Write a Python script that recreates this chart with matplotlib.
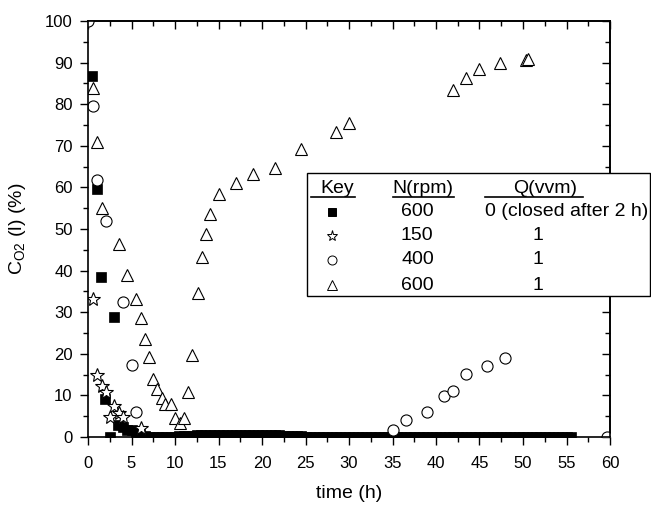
import matplotlib.pyplot as plt
from matplotlib.patches import Rectangle
from matplotlib.lines import Line2D

plt.rcParams['font.family'] = ['Liberation Sans', 'DejaVu Sans']

# N=600 rpm, Q=0 (closed after 2 h) - filled squares
t_sq = [0.5, 1.0, 1.5, 2.0, 2.5, 3.0, 3.5, 4.0, 4.5, 5.0, 5.5, 6.0,
        6.5, 7.0, 7.5, 8.0, 8.5, 9.0, 9.5, 10.0, 10.5, 11.0, 11.5, 12.0,
        12.5, 13.0, 13.5, 14.0, 14.5, 15.0, 15.5, 16.0, 16.5, 17.0, 17.5,
        18.0, 18.5, 19.0, 19.5, 20.0, 20.5, 21.0, 21.5, 22.0, 22.5, 23.0,
        23.5, 24.0, 24.5, 25.0, 25.5, 26.0, 26.5, 27.0, 27.5, 28.0, 28.5,
        29.0, 29.5, 30.0, 30.5, 31.0, 31.5, 32.0, 32.5, 33.0, 33.5, 34.0,
        34.5, 35.0, 35.5, 36.0, 36.5, 37.0, 37.5, 38.0, 38.5, 39.0, 39.5,
        40.0, 40.5, 41.0, 41.5, 42.0, 42.5, 43.0, 43.5, 44.0, 44.5, 45.0,
        45.5, 46.0, 46.5, 47.0, 47.5, 48.0, 48.5, 49.0, 49.5, 50.0, 50.5,
        51.0, 51.5, 52.0, 52.5, 53.0, 53.5, 54.0, 54.5, 55.0, 55.5]
c_sq = [86.8, 59.5, 38.5, 9.2, 0.0, 28.8, 2.8, 2.3, 1.8, 1.6, 1.2, 0.8,
        0.2, 0.1, 0.1, 0.1, 0.1, 0.1, 0.1, 0.1, 0.2, 0.2, 0.3, 0.3,
        0.4, 0.5, 0.6, 0.6, 0.6, 0.6, 0.6, 0.6, 0.6, 0.6, 0.6,
        0.6, 0.5, 0.5, 0.5, 0.5, 0.4, 0.4, 0.4, 0.4, 0.3, 0.3,
        0.3, 0.2, 0.2, 0.1, 0.1, 0.1, 0.1, 0.1, 0.1, 0.1, 0.1,
        0.1, 0.1, 0.1, 0.1, 0.1, 0.1, 0.1, 0.1, 0.1, 0.1, 0.1,
        0.1, 0.1, 0.1, 0.1, 0.1, 0.1, 0.1, 0.1, 0.1, 0.1, 0.1,
        0.1, 0.1, 0.1, 0.1, 0.1, 0.1, 0.1, 0.1, 0.1, 0.1, 0.1,
        0.1, 0.1, 0.1, 0.1, 0.1, 0.1, 0.1, 0.1, 0.1, 0.1, 0.1,
        0.1, 0.1, 0.1, 0.1, 0.1, 0.1, 0.1, 0.1, 0.1, 0.1]

# N=150 rpm, Q=1 - open stars
t_st = [0.54, 1.07, 1.57, 2.07, 2.53, 3.0, 3.6, 4.06, 6.05]
c_st = [33.2, 14.8, 12.2, 10.8, 4.8, 7.4, 5.8, 4.8, 2.2]

# N=400 rpm, Q=1 - open circles
t_ci = [0.0, 0.54, 1.07, 2.07, 4.06, 5.0, 5.5, 35.0, 36.5, 39.0, 40.9, 41.9,
        43.4, 45.9, 47.9, 59.6]
c_ci = [100.0, 79.6, 61.8, 52.0, 32.4, 17.3, 6.0, 1.8, 4.2, 5.9, 9.9, 11.1,
        15.1, 17.1, 19.0, 0.0]

# N=600 rpm, Q=1 - open triangles
t_tr = [0.54, 1.07, 1.57, 3.6, 4.5, 5.5, 6.05, 6.55, 7.05, 7.5, 7.97, 8.47,
        8.9, 9.5, 10.0, 10.6, 11.0, 11.5, 12.0, 12.6, 13.1, 13.6, 14.0, 15.0,
        17.0, 19.0, 21.5, 24.5, 28.5, 30.0, 42.0, 43.5, 45.0, 47.4, 50.4, 50.6]
c_tr = [83.8, 71.0, 55.0, 46.5, 39.0, 33.2, 28.7, 23.5, 19.2, 13.9, 11.5, 9.3,
        7.9, 7.9, 4.6, 3.3, 4.6, 10.7, 19.7, 34.7, 43.3, 48.9, 53.6, 58.3,
        61.1, 63.2, 64.7, 69.2, 73.4, 75.4, 83.4, 86.4, 88.4, 89.8, 90.6, 90.9]

key_rpm = ['600', '150', '400', '600']
key_q = ['0 (closed after 2 h)', '1', '1', '1']

fig = plt.figure(figsize=(6.51, 5.07), dpi=100)
ax = fig.add_axes([88 / 651, (507 - 437) / 507, 522 / 651, 416 / 507])

ax.plot(t_sq, c_sq, 's', ms=6.5, mfc='black', mec='black', mew=0.5)
ax.plot(t_st, c_st, '*', ms=10, mfc='white', mec='black', mew=0.8)
ax.plot(t_ci, c_ci, 'o', ms=8, mfc='white', mec='black', mew=0.8)
ax.plot(t_tr, c_tr, '^', ms=9, mfc='white', mec='black', mew=0.8)

ax.set_xlim(0, 60)
ax.set_ylim(0, 100)
ax.set_xticks(range(0, 61, 5))
ax.set_xticks([x + 2.5 for x in range(0, 60, 5)], minor=True)
ax.set_yticks(range(0, 101, 10))
ax.set_yticks([y + 5 for y in range(0, 100, 10)], minor=True)
ax.tick_params(which='both', labelsize=12, width=1, color='black')
ax.tick_params(which='major', length=6)
ax.tick_params(axis='x', which='major', pad=8)
ax.tick_params(axis='y', which='major', pad=5)
ax.tick_params(which='minor', length=3.5)
ax.tick_params(which='both', direction='out', top=False, right=False)
ax2 = ax.secondary_xaxis('top')
ax2.set_xticks(range(0, 61, 5))
ax2.set_xticks([x + 2.5 for x in range(0, 60, 5)], minor=True)
ax2.tick_params(which='both', direction='in', labeltop=False, width=1)
ax2.tick_params(which='major', length=6)
ax2.tick_params(which='minor', length=3.5)
ay2 = ax.secondary_yaxis('right')
ay2.set_yticks(range(0, 101, 10))
ay2.set_yticks([y + 5 for y in range(0, 100, 10)], minor=True)
ay2.tick_params(which='both', direction='in', labelright=False, width=1)
ay2.tick_params(which='major', length=6)
ay2.tick_params(which='minor', length=3.5)
for s in ax.spines.values():
    s.set_linewidth(1.2)
ax2.spines['top'].set_linewidth(1.2)
ay2.spines['right'].set_linewidth(1.2)

ax.set_xlabel('time (h)', fontsize=14, labelpad=10)
ax.set_ylabel(r'C$_{\mathregular{O2}}$ (l) (%)', fontsize=14, labelpad=12)

# key box drawn in figure pixels
W, H = 651, 507
def fx(px):
    return px / W
def fy(py):
    return 1 - py / H

fig.patches.append(Rectangle((fx(307), fy(296)), fx(650) - fx(307), fy(173) - fy(296),
                             transform=fig.transFigure, facecolor='white',
                             edgecolor='black', linewidth=1, zorder=5))
fs = 14
fig.text(fx(337), fy(193), 'Key', fontsize=fs, ha='center', va='baseline', zorder=6)
fig.text(fx(423), fy(193), 'N(rpm)', fontsize=fs, ha='center', va='baseline', zorder=6)
fig.text(fx(545), fy(193), 'Q(vvm)', fontsize=fs, ha='center', va='baseline', zorder=6)
for x0, x1 in [(311, 355), (393, 454), (485, 583)]:
    fig.lines.append(Line2D([fx(x0), fx(x1)], [fy(197), fy(197)], color='black',
                            lw=1.2, transform=fig.transFigure, zorder=6))

rows_y = [212, 236, 260, 285]
mk = [('s', 'black', 6), ('*', 'white', 8), ('o', 'white', 6.5), ('^', 'white', 7)]
for i, yy in enumerate(rows_y):
    m, fc, ms = mk[i]
    fig.lines.append(Line2D([fx(332)], [fy(yy)], marker=m, ms=ms, mfc=fc, mec='black',
                            mew=0.7, transform=fig.transFigure, zorder=7))
    fig.text(fx(401), fy(yy), key_rpm[i], fontsize=fs, ha='left', va='center', zorder=6)
    if i == 0:
        fig.text(fx(485), fy(yy), key_q[i], fontsize=fs, ha='left', va='center', zorder=6)
    else:
        fig.text(fx(538), fy(yy), key_q[i], fontsize=fs, ha='center', va='center', zorder=6)

fig.savefig('out.png', dpi=100)
